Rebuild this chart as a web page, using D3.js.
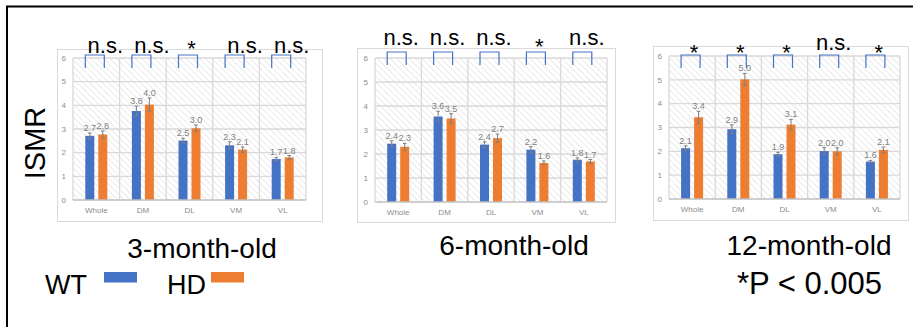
<!DOCTYPE html>
<html>
<head>
<meta charset="utf-8">
<script src="https://cdn.jsdelivr.net/npm/d3@7"></script>
<style>
  body { margin: 0; background: #fff; }
  svg { display: block; font-family: "Liberation Sans", Arial, sans-serif; }
</style>
</head>
<body>
<svg id="chart" width="915" height="327"></svg>
<script>
// data
const categories = ["Whole", "DM", "DL", "VM", "VL"];
const yTicks = [0, 1, 2, 3, 4, 5, 6];

const wt3 = [2.71, 3.76, 2.51, 2.31, 1.73];
const wt3Err = [0.12, 0.2, 0.1, 0.15, 0.07];
const hd3 = [2.77, 4.03, 3.03, 2.13, 1.80];
const hd3Err = [0.15, 0.28, 0.14, 0.11, 0.08];
const sig3 = ["n.s.", "n.s.", "*", "n.s.", "n.s."];

const wt6 = [2.43, 3.56, 2.39, 2.18, 1.76];
const wt6Err = [0.12, 0.22, 0.12, 0.13, 0.08];
const hd6 = [2.30, 3.48, 2.66, 1.63, 1.69];
const hd6Err = [0.14, 0.2, 0.17, 0.08, 0.08];
const sig6 = ["n.s.", "n.s.", "n.s.", "*", "n.s."];

const wt12 = [2.13, 2.93, 1.88, 2.01, 1.57];
const wt12Err = [0.1, 0.18, 0.08, 0.15, 0.05];
const hd12 = [3.43, 5.02, 3.12, 2.00, 2.06];
const hd12Err = [0.25, 0.25, 0.22, 0.15, 0.12];
const sig12 = ["*", "*", "*", "n.s.", "*"];

const BLUE = "#4472c4", ORANGE = "#ed7d31";

// layout of the three panels
const panels = [
  { title: "3-month-old", frame: [57, 49, 322, 221], plot: [73, 306, 58, 200], titleX: 202, titleY: 258,
    wt: wt3, wtErr: wt3Err, hd: hd3, hdErr: hd3Err, sig: sig3, brTop: 55, nsY: 53, nsDx: 9, starY: 44 },
  { title: "6-month-old", frame: [357, 48, 615, 222], plot: [375, 607, 58, 202], titleX: 514, titleY: 255,
    wt: wt6, wtErr: wt6Err, hd: hd6, hdErr: hd6Err, sig: sig6, brTop: 52, nsY: 45, nsDx: 3, starY: 42 },
  { title: "12-month-old", frame: [653, 46, 908, 220], plot: [669, 900, 56, 199], titleX: 809, titleY: 255,
    wt: wt12, wtErr: wt12Err, hd: hd12, hdErr: hd12Err, sig: sig12, brTop: 55, nsY: 50, nsDx: 3, starY: 48 }
];

const svg = d3.select("#chart");

const defs = svg.append("defs");
defs.append("pattern")
  .attr("id", "hatch")
  .attr("patternUnits", "userSpaceOnUse")
  .attr("width", 4.5)
  .attr("height", 4.5)
  .attr("patternTransform", "rotate(-45)")
  .append("line")
  .attr("x1", 0).attr("y1", 0).attr("x2", 0).attr("y2", 4.5)
  .attr("stroke", "#d9d9d9")
  .attr("stroke-width", 1.1);

// outer frame (left and top edges show)
svg.append("path")
  .attr("d", "M7,330 L7,6.5 L913,6.5")
  .attr("fill", "none")
  .attr("stroke", "#000")
  .attr("stroke-width", 2);

const fmt = d3.format(".1f");

panels.forEach(p => {
  const [fx0, fy0, fx1, fy1] = p.frame;
  const [px0, px1, py6, py0] = p.plot;

  const g = svg.append("g");

  g.append("rect")
    .attr("x", fx0 + 0.5).attr("y", fy0 + 0.5)
    .attr("width", fx1 - fx0).attr("height", fy1 - fy0)
    .attr("fill", "#fff")
    .attr("stroke", "#d9d9d9");

  const x = d3.scaleBand().domain(categories).range([px0, px1]).padding(0);
  const y = d3.scaleLinear().domain([0, 6]).range([py0, py6]);
  const cw = x.bandwidth();
  const x1 = d3.scaleBand().domain(["WT", "HD"]).range([cw / 2 - 11, cw / 2 + 11]).paddingInner(4 / 13);

  // hatched plot area
  g.append("rect")
    .attr("x", px0).attr("y", y(6))
    .attr("width", px1 - px0).attr("height", y(0) - y(6))
    .attr("fill", "url(#hatch)");

  // gridlines
  g.append("g").selectAll("line.h")
    .data(yTicks.filter(t => t > 0))
    .join("line")
    .attr("x1", px0).attr("x2", px1)
    .attr("y1", d => y(d)).attr("y2", d => y(d))
    .attr("stroke", "#d9d9d9").attr("stroke-width", 1.3);

  g.append("g").selectAll("line.v")
    .data(categories.map(c => x(c)).concat([px1]))
    .join("line")
    .attr("x1", d => d).attr("x2", d => d)
    .attr("y1", y(0)).attr("y2", y(6))
    .attr("stroke", "#d9d9d9").attr("stroke-width", 1.3);

  // y axis labels
  g.append("g").selectAll("text")
    .data(yTicks)
    .join("text")
    .attr("x", px0 - 7)
    .attr("y", d => y(d))
    .attr("dy", "0.35em")
    .attr("text-anchor", "end")
    .attr("font-size", 8)
    .attr("fill", "#8c8c8c")
    .text(d => d);

  // category labels
  g.append("g").selectAll("text")
    .data(categories)
    .join("text")
    .attr("x", d => x(d) + cw / 2)
    .attr("y", y(0) + 13)
    .attr("text-anchor", "middle")
    .attr("font-size", 8)
    .attr("fill", "#8c8c8c")
    .text(d => d);

  const rows = categories.flatMap((c, i) => [
    { cat: c, key: "WT", v: p.wt[i], e: p.wtErr[i], color: BLUE },
    { cat: c, key: "HD", v: p.hd[i], e: p.hdErr[i], color: ORANGE }
  ]);
  const cx = d => x(d.cat) + x1(d.key) + x1.bandwidth() / 2;

  g.append("g").selectAll("rect")
    .data(rows)
    .join("rect")
    .attr("x", d => x(d.cat) + x1(d.key))
    .attr("y", d => y(d.v))
    .attr("width", x1.bandwidth())
    .attr("height", d => y(0) - y(d.v))
    .attr("fill", d => d.color);

  // baseline
  g.append("line")
    .attr("x1", px0).attr("x2", px1)
    .attr("y1", y(0)).attr("y2", y(0))
    .attr("stroke", "#bfbfbf").attr("stroke-width", 1.3);

  // error bars
  const eb = g.append("g").attr("stroke", "#7f7f7f").attr("stroke-width", 1);
  eb.selectAll("path")
    .data(rows)
    .join("path")
    .attr("fill", "none")
    .attr("d", d => {
      const c = cx(d), t = y(d.v + d.e), b = y(d.v - d.e);
      return `M${c},${t}V${b}M${c - 1.8},${t}H${c + 1.8}M${c - 1.8},${b}H${c + 1.8}`;
    });

  // value labels
  g.append("g").selectAll("text")
    .data(rows)
    .join("text")
    .attr("x", cx)
    .attr("y", d => y(d.v + d.e) - 2)
    .attr("text-anchor", "middle")
    .attr("font-size", 9)
    .attr("fill", "#7f7f7f")
    .text(d => fmt(d.v));

  // significance brackets
  g.append("g").selectAll("path")
    .data(categories)
    .join("path")
    .attr("fill", "none")
    .attr("stroke", "#4472c4")
    .attr("stroke-width", 1.2)
    .attr("d", d => {
      const c = x(d) + cw / 2;
      return `M${c - 11},${p.brTop + 13}V${p.brTop}H${c + 8}V${p.brTop + 13}`;
    });

  g.append("g").selectAll("text")
    .data(categories.map((c, i) => ({ cat: c, s: p.sig[i] })))
    .join("text")
    .attr("x", d => x(d.cat) + cw / 2 + (d.s === "*" ? 2 : p.nsDx))
    .attr("y", d => d.s === "*" ? p.starY + 12 : p.nsY)
    .attr("text-anchor", "middle")
    .attr("font-size", 22)
    .attr("fill", "#000")
    .text(d => d.s);

  // panel title
  svg.append("text")
    .attr("x", p.titleX)
    .attr("y", p.titleY)
    .attr("text-anchor", "middle")
    .attr("font-size", 28)
    .attr("fill", "#000")
    .text(p.title);
});

// y axis title
svg.append("text")
  .attr("transform", "translate(45,143) rotate(-90)")
  .attr("text-anchor", "middle")
  .attr("font-size", 29)
  .attr("fill", "#000")
  .text("ISMR");

// legend
const legend = [
  { label: "WT", color: BLUE, tx: 45, rx: 104 },
  { label: "HD", color: ORANGE, tx: 167, rx: 211 }
];
legend.forEach(l => {
  svg.append("text")
    .attr("x", l.tx).attr("y", 294)
    .attr("font-size", 27)
    .attr("fill", "#000")
    .text(l.label);
  svg.append("rect")
    .attr("x", l.rx).attr("y", 272)
    .attr("width", 33).attr("height", 10.5)
    .attr("fill", l.color);
});

svg.append("text")
  .attr("x", 737).attr("y", 294)
  .attr("font-size", 31)
  .attr("fill", "#000")
  .text("*P < 0.005");
</script>
</body>
</html>
